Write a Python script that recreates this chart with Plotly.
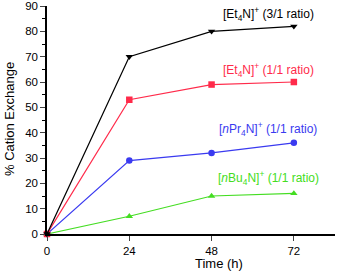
import plotly.graph_objects as go

time_h = [0, 24, 48, 72]
et4n_31 = [0, 70, 80, 82]
et4n_11 = [0, 53, 59, 60]
npr4n_11 = [0, 29, 32, 36]
nbu4n_11 = [0, 7, 15, 16]

series = [
    (et4n_31, "#000000", "triangle-down", "[Et<sub>4</sub>N]<sup>+</sup> (3/1 ratio)", 14),
    (et4n_11, "#FF2A4A", "square", "[Et<sub>4</sub>N]<sup>+</sup> (1/1 ratio)", 70),
    (npr4n_11, "#3A3AF0", "circle", "[<i>n</i>Pr<sub>4</sub>N]<sup>+</sup> (1/1 ratio)", 129),
    (nbu4n_11, "#44DD22", "triangle-up", "[<i>n</i>Bu<sub>4</sub>N]<sup>+</sup> (1/1 ratio)", 178),
]

W, H = 337, 273
plot_l, plot_r, plot_t, plot_b = 47, 2, 6, 39
plot_w = W - plot_l - plot_r
plot_h = H - plot_t - plot_b

fig = go.Figure()
for ys, col, sym, name, ly in reversed(series):
    fig.add_trace(go.Scatter(x=time_h, y=ys, mode="lines+markers",
                             line=dict(color=col, width=1.2),
                             marker=dict(symbol=sym, size=6.5, color=col),
                             name=name, showlegend=False, cliponaxis=False))

ann = []
for ys, col, sym, name, ly in series:
    ann.append(dict(x=(268 - plot_l) / plot_w, y=1 - (ly - plot_t) / plot_h,
                    xref="paper", yref="paper", xanchor="center", yanchor="middle",
                    text=name, showarrow=False,
                    font=dict(color=col, size=12, family="Liberation Sans, Arial")))
# axis titles
ann.append(dict(x=(219 - plot_l) / plot_w, y=1 - (263 - plot_t) / plot_h, xref="paper", yref="paper",
                xanchor="center", yanchor="middle", text="Time (h)", showarrow=False,
                font=dict(size=13, color="black", family="Liberation Sans, Arial")))
ann.append(dict(x=(9 - plot_l) / plot_w, y=1 - (119 - plot_t) / plot_h, xref="paper", yref="paper",
                xanchor="center", yanchor="middle", text="% Cation Exchange", showarrow=False,
                textangle=-90,
                font=dict(size=13, color="black", family="Liberation Sans, Arial")))

fig.update_layout(
    width=W, height=H,
    margin=dict(l=plot_l, r=plot_r, t=plot_t, b=plot_b, autoexpand=False),
    plot_bgcolor="white", paper_bgcolor="white",
    font=dict(family="Liberation Sans, Arial", size=11.5, color="black"),
    xaxis=dict(range=[0, 84], tickvals=[0, 24, 48, 72], showline=True, linecolor="black",
               linewidth=1.5, ticks="outside", ticklen=5, tickwidth=1, showgrid=False,
               zeroline=False, automargin=False, tickfont=dict(size=11.5),
               ticklabeloverflow="allow"),
    yaxis=dict(range=[0, 90.01], tickvals=list(range(0, 91, 10)), showline=True, linecolor="black",
               linewidth=1.5, ticks="outside", ticklen=5, tickwidth=1, showgrid=False,
               zeroline=False, automargin=False, ticklabeloverflow="allow",
               minor=dict(ticks="outside", ticklen=3, tickvals=list(range(5, 90, 10)), tickcolor="black"),
               tickfont=dict(size=11.5)),
    annotations=ann,
)
fig.write_html("out.html", config={"displayModeBar": False},
               post_script="document.body.style.margin='0';document.body.style.overflow='hidden';")
